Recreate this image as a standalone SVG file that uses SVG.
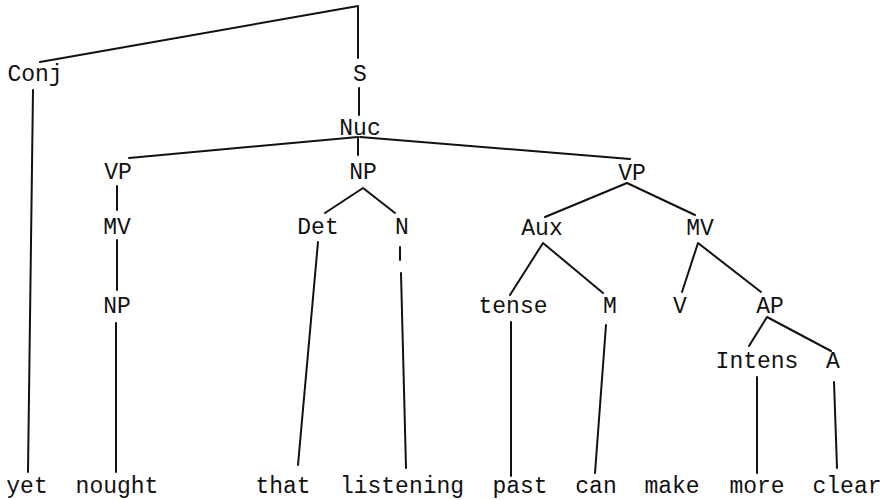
<svg xmlns="http://www.w3.org/2000/svg" width="893" height="500" viewBox="0 0 893 500">
<style>
text{font-family:"Liberation Mono","DejaVu Sans Mono",monospace;font-size:23px;fill:#111;text-anchor:middle}
.e line,.e polyline{stroke:#111;stroke-width:2;fill:none;stroke-linecap:round;stroke-linejoin:round}
</style>
<rect width="893" height="500" fill="#fff"/>
<g class="e" id="connectors">
<polyline points="40,62 358,6 358,58"/>
<line x1="33" y1="90" x2="28" y2="472"/>
<line x1="359" y1="88" x2="359" y2="115"/>
<line x1="358" y1="137" x2="129" y2="158"/>
<line x1="358" y1="138" x2="358" y2="155"/>
<line x1="360" y1="137" x2="630" y2="159"/>
<line x1="117" y1="186" x2="117" y2="210"/>
<line x1="117" y1="240" x2="117" y2="290"/>
<line x1="116" y1="323" x2="116" y2="472"/>
<polyline points="325,213 363,188 395,213"/>
<line x1="318" y1="242" x2="298" y2="465"/>
<line x1="400" y1="247" x2="400" y2="260"/>
<line x1="401" y1="273" x2="406" y2="468"/>
<polyline points="545,217 627,183 695,215"/>
<polyline points="510,295 543,243 603,293"/>
<polyline points="682,292 698,243 761,292"/>
<line x1="511" y1="322" x2="511" y2="476"/>
<line x1="606" y1="325" x2="595" y2="473"/>
<polyline points="749,346 767,317 831,351"/>
<line x1="757" y1="377" x2="757" y2="473"/>
<line x1="834" y1="382" x2="837" y2="468"/>
</g>
<g id="n-conj"><text x="35" y="81">Conj</text></g>
<g id="n-s"><text x="360" y="81">S</text></g>
<g id="n-nuc"><text x="360" y="135">Nuc</text></g>
<g id="n-vp1"><text x="118" y="179">VP</text></g>
<g id="n-np1"><text x="363" y="179">NP</text></g>
<g id="n-vp2"><text x="632" y="180">VP</text></g>
<g id="n-mv1"><text x="117" y="234">MV</text></g>
<g id="n-det"><text x="318" y="234">Det</text></g>
<g id="n-n"><text x="402" y="234">N</text></g>
<g id="n-aux"><text x="542" y="235">Aux</text></g>
<g id="n-mv2"><text x="700" y="235">MV</text></g>
<g id="n-np2"><text x="117" y="313">NP</text></g>
<g id="n-tense"><text x="513" y="313">tense</text></g>
<g id="n-m"><text x="610" y="313">M</text></g>
<g id="n-v"><text x="680" y="313">V</text></g>
<g id="n-ap"><text x="770" y="313">AP</text></g>
<g id="n-intens"><text x="757" y="368">Intens</text></g>
<g id="n-a"><text x="833" y="368">A</text></g>
<g id="w-yet"><text x="27" y="493">yet</text></g>
<g id="w-nought"><text x="117" y="493">nought</text></g>
<g id="w-that"><text x="283" y="493">that</text></g>
<g id="w-listening"><text x="402" y="493">listening</text></g>
<g id="w-past"><text x="520" y="493">past</text></g>
<g id="w-can"><text x="596" y="493">can</text></g>
<g id="w-make"><text x="672" y="493">make</text></g>
<g id="w-more"><text x="757" y="493">more</text></g>
<g id="w-clear"><text x="847" y="493">clear</text></g>
</svg>
